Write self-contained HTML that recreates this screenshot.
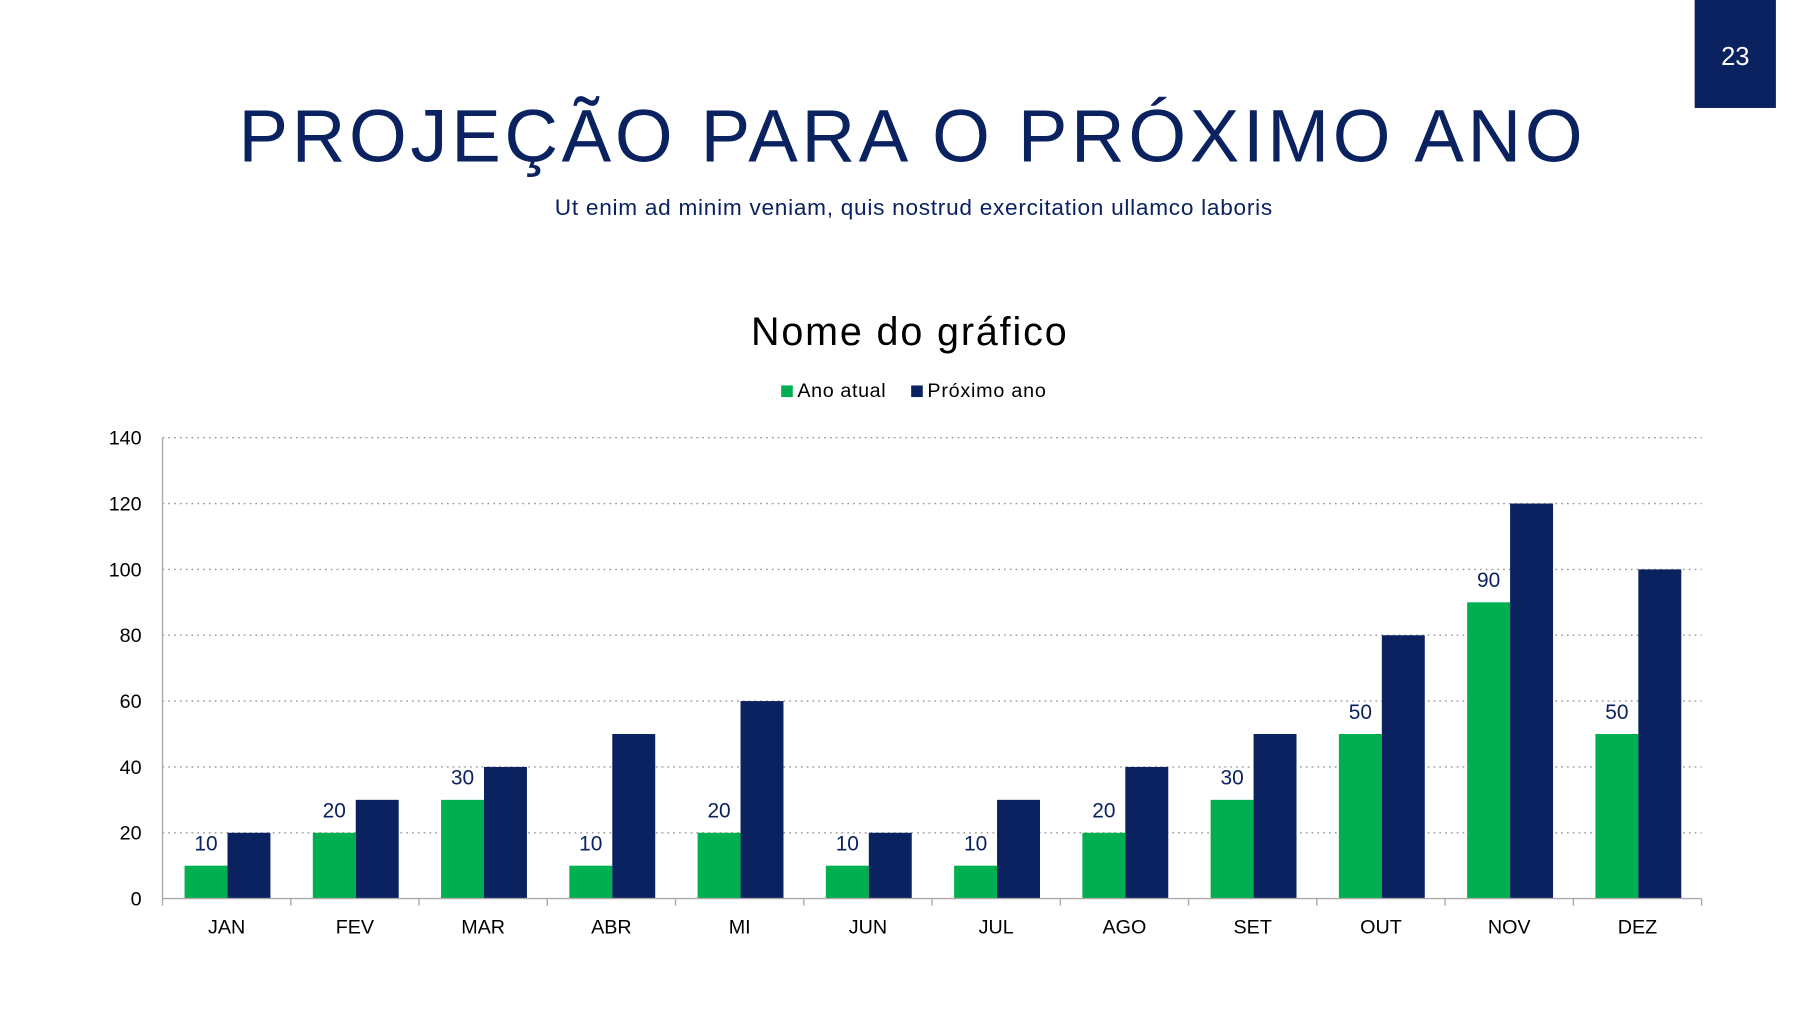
<!DOCTYPE html>
<html><head><meta charset="utf-8"><style>
html,body{margin:0;padding:0;background:#fff;}
svg{display:block;font-family:"Liberation Sans",sans-serif;}
</style></head><body>
<svg id="s" width="1820" height="1024" viewBox="0 0 1568 882" preserveAspectRatio="none">
<rect x="1460" y="0" width="70" height="93" fill="#0b2260"/>
<text x="1495" y="56" fill="#fff" font-size="22" text-anchor="middle">23</text>
<text x="787" y="139" fill="#0b2260" font-size="64" letter-spacing="5" text-anchor="middle" textLength="1163">PROJEÇÃO PARA O PRÓXIMO ANO</text>
<text x="787" y="185" fill="#0b2260" font-size="19.5" text-anchor="middle" textLength="618">Ut enim ad minim veniam, quis nostrud exercitation ullamco laboris</text>
<text x="783" y="297" fill="#000" font-size="34" text-anchor="middle" textLength="272">Nome do gráfico</text>
<g>
<rect x="673" y="332" width="10" height="10" fill="#00b050"/>
<text x="687" y="342" font-size="17" fill="#000" textLength="76">Ano atual</text>
<rect x="785" y="332" width="10" height="10" fill="#0b2260"/>
<text x="799" y="342" font-size="17" fill="#000" textLength="102">Próximo ano</text>
</g>
<g id="chart"></g>
</svg>
<script>
const categories=["JAN","FEV","MAR","ABR","MI","JUN","JUL","AGO","SET","OUT","NOV","DEZ"];
const anoAtual=[10,20,30,10,20,10,10,20,30,50,90,50];
const proximoAno=[20,30,40,50,60,20,30,40,50,80,120,100];
const yTicks=[0,20,40,60,80,100,120,140];
const NS="http://www.w3.org/2000/svg";
const g=document.getElementById('chart');
const X0=140,X1=1466,Y0=774,Y1=377,YMAX=140;
const band=(X1-X0)/categories.length;
const y=v=>Y0-(v/YMAX)*(Y0-Y1);
const xb=i=>X0+i*band;
function mk(t,a){const e=document.createElementNS(NS,t);for(const k in a)e.setAttribute(k,a[k]);g.appendChild(e);return e;}
yTicks.forEach(v=>{
  if(v>0){const l=mk('line',{x1:X0,x2:X1,y1:y(v),y2:y(v),stroke:'#999','stroke-width':1.2,'stroke-dasharray':'1.5 3.5'});
  
  }
  const t=mk('text',{x:122,y:y(v)+6,'font-size':17,'text-anchor':'end',fill:'#000'});t.textContent=v;
  
  
});
const ya=mk('line',{x1:X0,x2:X0,y1:Y1,y2:Y0,stroke:'#aaa','stroke-width':1.2});


const bw=37;
categories.forEach((c,i)=>{
  const gx=xb(i)+19;
  const r1=mk('rect',{x:gx,y:y(anoAtual[i]),width:bw,height:Y0-y(anoAtual[i]),fill:'#00b050'});
  
  
  const r2=mk('rect',{x:gx+bw,y:y(proximoAno[i]),width:bw,height:Y0-y(proximoAno[i]),fill:'#0b2260'});
  
  
  const dl=mk('text',{x:gx+bw/2,y:y(anoAtual[i])-13,'font-size':18,'text-anchor':'middle',fill:'#0b2260'});dl.textContent=anoAtual[i];
  
  
  const xl=mk('text',{x:xb(i)+band/2,y:804,'font-size':17,'text-anchor':'middle',fill:'#000'});xl.textContent=c;
  
  
});
for(let i=0;i<=categories.length;i++){
  const tk=mk('line',{x1:xb(i),x2:xb(i),y1:Y0,y2:Y0+6,stroke:'#aaa','stroke-width':1.2});
  
  
}
const xa=mk('line',{x1:X0,x2:X1,y1:Y0,y2:Y0,stroke:'#aaa','stroke-width':1.2});


</script>
</body></html>
